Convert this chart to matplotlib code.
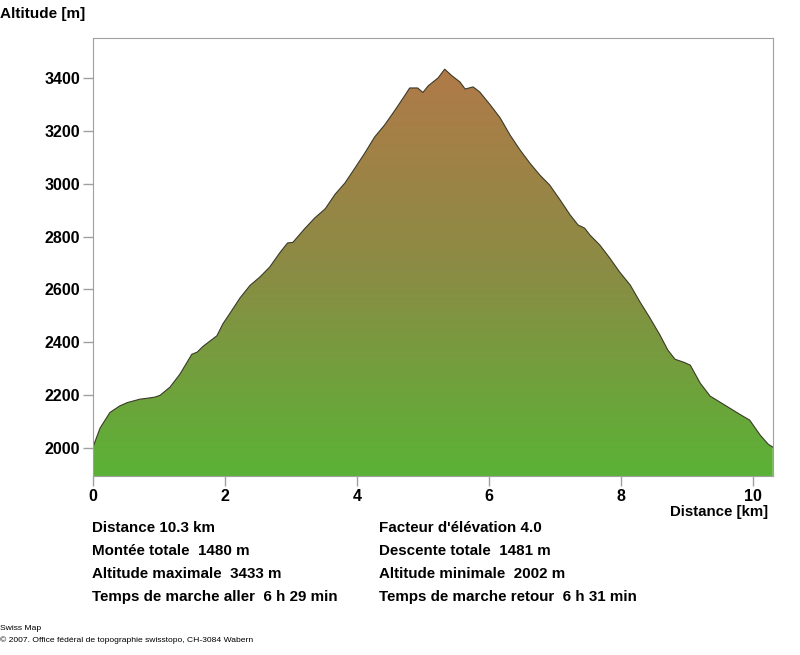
import numpy as np
import matplotlib
matplotlib.use("Agg")
import matplotlib.pyplot as plt
from matplotlib.colors import LinearSegmentedColormap

# profile (distance km, altitude m)
dist_km = [0.00, 0.11, 0.26, 0.41, 0.52, 0.71, 0.86, 0.94, 1.02, 1.17, 1.32, 1.44,
           1.50, 1.58, 1.67, 1.88, 1.97, 2.08, 2.23, 2.38, 2.53, 2.68, 2.83, 2.95,
           3.03, 3.21, 3.36, 3.52, 3.67, 3.82, 3.97, 4.12, 4.27, 4.42, 4.58, 4.73,
           4.80, 4.92, 5.00, 5.08, 5.23, 5.33, 5.44, 5.56, 5.64, 5.76, 5.86, 6.02,
           6.17, 6.32, 6.47, 6.62, 6.77, 6.92, 7.08, 7.23, 7.35, 7.45, 7.53, 7.68,
           7.83, 7.98, 8.14, 8.29, 8.44, 8.59, 8.71, 8.82, 8.95, 9.05, 9.20, 9.35,
           9.50, 9.65, 9.82, 9.95, 10.11, 10.23, 10.30]
alt_m = [2002, 2076, 2135, 2160, 2172, 2185, 2190, 2193, 2200, 2231, 2280, 2330,
         2355, 2363, 2385, 2425, 2470, 2511, 2568, 2615, 2647, 2685, 2738, 2776,
         2778, 2830, 2870, 2905, 2960, 3003, 3059, 3116, 3177, 3222, 3279, 3335,
         3362, 3362, 3345, 3370, 3400, 3433, 3408, 3385, 3358, 3366, 3347, 3298,
         3249, 3184, 3128, 3078, 3033, 2995, 2938, 2882, 2844, 2832, 2806, 2768,
         2719, 2666, 2617, 2552, 2492, 2428, 2371, 2336, 2325, 2314, 2246, 2197,
         2174, 2151, 2125, 2106, 2049, 2015, 2004]

xticks = [0, 2, 4, 6, 8, 10]
yticks = [2000, 2200, 2400, 2600, 2800, 3000, 3200, 3400]

stats_left = ["Distance 10.3 km", "Montée totale  1480 m",
              "Altitude maximale  3433 m", "Temps de marche aller  6 h 29 min"]
stats_right = ["Facteur d'élévation 4.0", "Descente totale  1481 m",
               "Altitude minimale  2002 m", "Temps de marche retour  6 h 31 min"]

plt.rcParams['font.family'] = ['Liberation Sans', 'DejaVu Sans']

fig = plt.figure(figsize=(8, 6.55), dpi=100)
ax = fig.add_axes([0.116, 0.273, 0.85, 0.669])

xmin, xmax = 0, 10.3
ymin, ymax = 1894, 3551

# gradient fill clipped to the profile
cmap = LinearSegmentedColormap.from_list("terrain", ["#5bb236", "#8a8c44", "#b07a48"])
grad = np.linspace(0, 1, 256).reshape(-1, 1)
img = ax.imshow(grad, cmap=cmap, aspect='auto', origin='lower',
                extent=[xmin, xmax, ymin, max(alt_m)], zorder=1)
poly = ax.fill_between(dist_km, alt_m, ymin, color='none', lw=0)
img.set_clip_path(poly.get_paths()[0], transform=ax.transData)
ax.plot(dist_km, alt_m, color='#3a3a2a', lw=0.8, zorder=2)

ax.set_xlim(xmin, xmax)
ax.set_ylim(ymin, ymax)
ax.set_xticks(xticks)
ax.set_yticks(yticks)
for s in ax.spines.values():
    s.set_color('#a0a0a0')
ax.tick_params(colors='#a0a0a0', length=7, width=1, labelcolor='black',
               labelsize=11.5, pad=2)
for lab in ax.get_xticklabels() + ax.get_yticklabels():
    lab.set_fontweight('bold')

fig.text(0.0, 0.99, "Altitude [m]", fontsize=11, fontweight='bold', va='top', ha='left')
fig.text(0.96, 0.218, "Distance [km]", fontsize=10.8, fontweight='bold', va='center', ha='right')

for i, (l, r) in enumerate(zip(stats_left, stats_right)):
    y = 1 - (528 + 23 * i) / 655
    fig.text(92 / 800, y, l, fontsize=10.9, fontweight='bold', va='center')
    fig.text(379 / 800, y, r, fontsize=10.9, fontweight='bold', va='center')

fig.text(0.0, 1 - 628 / 655, "Swiss Map", fontsize=6.1, va='center')
fig.text(0.0, 1 - 640 / 655, "© 2007. Office fédéral de topographie swisstopo, CH-3084 Wabern",
         fontsize=6.1, va='center')

fig.savefig("out.png", dpi=100)
